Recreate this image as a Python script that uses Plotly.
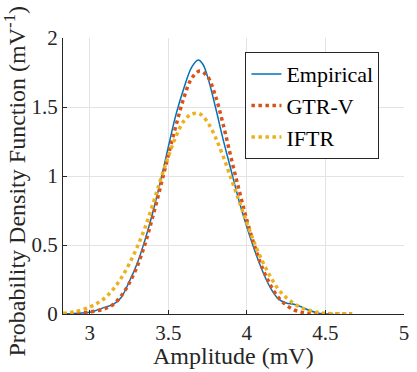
import plotly.graph_objects as go

# amplitude grid (mV) and PDF values
emp_x = [2.83, 2.9, 3.0, 3.1, 3.15, 3.2, 3.25, 3.3, 3.35, 3.4, 3.45, 3.5, 3.55, 3.6, 3.65, 3.69,
         3.72, 3.75, 3.8, 3.85, 3.9, 3.95, 4.0, 4.05, 4.1, 4.15, 4.2, 4.25, 4.3, 4.35, 4.4,
         4.45, 4.5, 4.55]
emp_y = [0.0, 0.004, 0.012, 0.05, 0.07, 0.12, 0.23, 0.36, 0.53, 0.73, 0.96, 1.21, 1.45, 1.64, 1.79, 1.84,
         1.81, 1.72, 1.50, 1.26, 1.04, 0.82, 0.63, 0.46, 0.31, 0.19, 0.11, 0.08, 0.07, 0.05, 0.025,
         0.008, 0.0, 0.0]

gtr_x = [2.83, 2.9, 3.0, 3.1, 3.15, 3.2, 3.25, 3.3, 3.35, 3.4, 3.45, 3.5, 3.55, 3.6, 3.65, 3.7,
         3.75, 3.8, 3.85, 3.9, 3.95, 4.0, 4.05, 4.1, 4.15, 4.2, 4.25, 4.3, 4.35, 4.4, 4.5, 4.67]
gtr_y = [0.0, 0.005, 0.015, 0.04, 0.07, 0.13, 0.22, 0.34, 0.50, 0.70, 0.92, 1.15, 1.37, 1.57, 1.71, 1.76,
         1.72, 1.58, 1.37, 1.13, 0.90, 0.68, 0.49, 0.33, 0.21, 0.12, 0.065, 0.03, 0.012, 0.004, 0.0, 0.0]

iftr_x = [2.83, 2.9, 3.0, 3.05, 3.1, 3.15, 3.2, 3.25, 3.3, 3.35, 3.4, 3.45, 3.5, 3.55, 3.6, 3.65,
          3.7, 3.75, 3.8, 3.85, 3.9, 3.95, 4.0, 4.05, 4.1, 4.15, 4.2, 4.25, 4.3, 4.35, 4.4, 4.45,
          4.5, 4.6, 4.67]
iftr_y = [0.005, 0.015, 0.05, 0.08, 0.12, 0.18, 0.26, 0.36, 0.48, 0.62, 0.79, 0.97, 1.14, 1.29, 1.40, 1.45,
          1.45, 1.39, 1.28, 1.14, 0.98, 0.82, 0.66, 0.51, 0.38, 0.27, 0.18, 0.12, 0.075, 0.045, 0.025, 0.012,
          0.005, 0.001, 0.0]

FONT = "Liberation Serif"

fig = go.Figure()
fig.add_trace(go.Scatter(x=emp_x, y=emp_y, mode="lines", name="Empirical",
                         line=dict(color="#0072BD", width=1.5, shape="spline")))
fig.add_trace(go.Scatter(x=gtr_x, y=gtr_y, mode="lines", name="GTR-V",
                         line=dict(color="#D95319", width=3.5, dash="dot", shape="spline")))
fig.add_trace(go.Scatter(x=iftr_x, y=iftr_y, mode="lines", name="IFTR",
                         line=dict(color="#EDB120", width=3.5, dash="dot", shape="spline")))

axis_common = dict(
    showgrid=True, gridcolor="#e3e3e3", gridwidth=1,
    showline=True, linecolor="#262626", linewidth=1,
    ticks="inside", ticklen=4, tickcolor="#262626",
    tickfont=dict(family=FONT, size=21, color="#262626"),
    zeroline=False,
)

fig.update_layout(
    width=417, height=372,
    margin=dict(l=63, r=8, t=38, b=58),
    paper_bgcolor="white", plot_bgcolor="white",
    font=dict(family=FONT, size=21, color="#262626"),
    xaxis=dict(range=[2.83, 5], tickvals=[3, 3.5, 4, 4.5, 5],
               ticktext=["3", "3.5", "4", "4.5", "5"], **axis_common),
    yaxis=dict(range=[0, 2], tickvals=[0, 0.5, 1, 1.5, 2],
               ticktext=["0", "0.5", "1", "1.5", "2"], **axis_common),
    legend=dict(x=0.535, y=0.949, xanchor="left", yanchor="top",
                bgcolor="white", bordercolor="#262626", borderwidth=1,
                font=dict(family=FONT, size=22, color="#000000"),
                tracegroupgap=0, itemwidth=30),
    showlegend=True,
)

# axis titles placed as annotations to match the tight reference layout
fig.add_annotation(text="Amplitude (mV)", xref="paper", yref="paper",
                   x=0.5, y=-0.152, xanchor="center", yanchor="middle",
                   showarrow=False, font=dict(family=FONT, size=24, color="#262626"))
fig.add_annotation(text="Probability Density Function (mV<sup>-1</sup>)",
                   xref="paper", yref="paper", x=-0.142, y=0.482,
                   xanchor="center", yanchor="middle", textangle=-90,
                   showarrow=False, font=dict(family=FONT, size=24, color="#262626"))

# drop the default page margin so the figure sits at the window's corner
fig.write_html("out.html", config={"displayModeBar": False},
               post_script="document.body.style.margin='0';")
